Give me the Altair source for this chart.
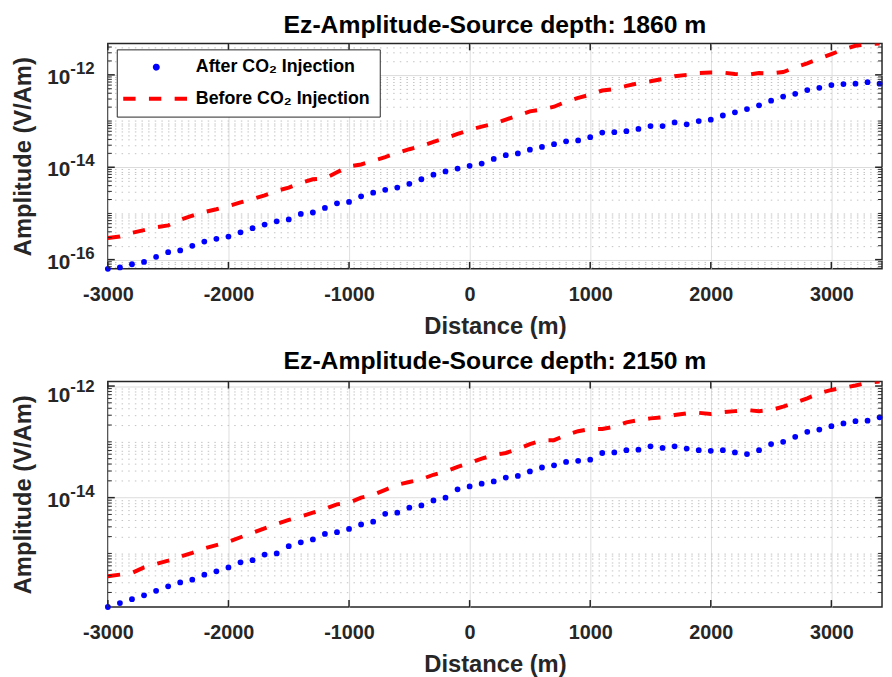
import altair as alt
import numpy as np
import pandas as pd

# ---------------- data ----------------
distance = list(range(-3000, 3401, 100))  # sample positions (m), every 100 m

series_names = ["After CO\u2082 Injection", "Before CO\u2082 Injection"]
series_colors = ["#0000ff", "#ff0000"]

# log10 of amplitude (V/Am), source depth 1860 m
top_after_exp = [
    -16.20, -16.17, -16.10, -16.05, -15.94, -15.84, -15.80, -15.70, -15.61, -15.55,
    -15.50, -15.41, -15.32, -15.24, -15.17, -15.13, -15.01, -14.98, -14.88, -14.78,
    -14.75, -14.63, -14.55, -14.49, -14.44, -14.36, -14.26, -14.16, -14.09, -14.03,
    -13.97, -13.92, -13.82, -13.74, -13.70, -13.62, -13.56, -13.50, -13.44, -13.42,
    -13.35, -13.25, -13.24, -13.22, -13.17, -13.11, -13.11, -13.03, -13.07, -13.00,
    -12.97, -12.88, -12.81, -12.74, -12.66, -12.56, -12.47, -12.41, -12.33, -12.28,
    -12.22, -12.20, -12.19, -12.16, -12.19,
]
top_before_exp = [
    -15.53, -15.50, -15.42, -15.36, -15.30, -15.26, -15.14, -15.05, -14.97, -14.91,
    -14.84, -14.76, -14.69, -14.61, -14.51, -14.44, -14.34, -14.26, -14.24, -14.11,
    -13.98, -13.94, -13.86, -13.78, -13.69, -13.61, -13.54, -13.45, -13.37, -13.28,
    -13.19, -13.12, -13.06, -12.97, -12.88, -12.79, -12.75, -12.69, -12.58, -12.50,
    -12.43, -12.34, -12.31, -12.24, -12.18, -12.14, -12.09, -12.03, -12.00, -11.96,
    -11.95, -11.95, -11.98, -12.00, -11.96, -11.97, -11.94, -11.84, -11.75, -11.65,
    -11.55, -11.45, -11.37, -11.34, -11.32,
]
# log10 of amplitude (V/Am), source depth 2150 m
bottom_after_exp = [
    -15.96, -15.89, -15.82, -15.75, -15.67, -15.59, -15.52, -15.47, -15.38, -15.32,
    -15.25, -15.16, -15.12, -15.02, -15.00, -14.87, -14.80, -14.75, -14.65, -14.62,
    -14.56, -14.48, -14.43, -14.29, -14.27, -14.18, -14.14, -14.05, -14.00, -13.85,
    -13.80, -13.75, -13.71, -13.64, -13.61, -13.53, -13.46, -13.42, -13.36, -13.34,
    -13.32, -13.20, -13.19, -13.15, -13.14, -13.08, -13.11, -13.08, -13.12, -13.15,
    -13.16, -13.15, -13.19, -13.22, -13.15, -13.04, -13.00, -12.91, -12.82, -12.78,
    -12.72, -12.67, -12.63, -12.62, -12.56,
]
bottom_before_exp = [
    -15.41, -15.38, -15.35, -15.25, -15.19, -15.13, -15.06, -14.99, -14.91, -14.85,
    -14.79, -14.71, -14.63, -14.55, -14.47, -14.40, -14.34, -14.27, -14.20, -14.12,
    -14.09, -14.00, -13.95, -13.86, -13.77, -13.72, -13.67, -13.59, -13.53, -13.45,
    -13.38, -13.30, -13.24, -13.20, -13.13, -13.04, -12.97, -12.97, -12.88, -12.81,
    -12.77, -12.77, -12.73, -12.65, -12.61, -12.58, -12.56, -12.52, -12.49, -12.48,
    -12.50, -12.47, -12.45, -12.43, -12.45, -12.43, -12.37, -12.30, -12.22, -12.13,
    -12.07, -12.03, -11.99, -11.94, -11.92,
]

panel_titles = ["Ez-Amplitude-Source depth: 1860 m", "Ez-Amplitude-Source depth: 2150 m"]
x_tick_values = [-3000, -2000, -1000, 0, 1000, 2000, 3000]
x_domain = [-3000, 3420]
top_y_domain_exp = [-16.20, -11.32]
bottom_y_domain_exp = [-15.96, -11.92]
top_y_label_exps = [-12, -14, -16]
bottom_y_label_exps = [-12, -14]

# ---------------- styling ----------------
FONT = "Liberation Sans"
AXIS_COLOR = "#262626"
PLOT_W = 783
DASH = [12.5, 13.5]

LEG_SIZE = 9  # legend symbol size -> circle diameter 3 (+ stroke 4)
LINE_PATH = "M-22.3,0H22.3"  # ~67 px long legend line at size 9

E = "round(log(datum.value)/LN10)"
MAJOR = f"(abs(log(datum.value)/LN10 - {E}) < 0.001 && abs({E}) % 2 == 0)"


def log_ticks(lo_exp, hi_exp):
    vals = []
    for n in range(int(np.floor(lo_exp)), int(np.ceil(hi_exp)) + 1):
        for k in range(1, 10):
            v = float(f"{k}e{n}")
            if 10 ** lo_exp <= v <= 10 ** hi_exp:
                vals.append(v)
    return vals


def make_df(after_exp, before_exp):
    return pd.DataFrame({
        "distance": distance + distance,
        "amplitude": [10 ** e for e in after_exp] + [10 ** e for e in before_exp],
        "series": [series_names[0]] * len(distance) + [series_names[1]] * len(distance),
    })


legend = alt.Legend(
    title=None,
    orient="none",
    legendX=9,
    legendY=6,
    direction="vertical",
    fillColor="white",
    strokeColor=AXIS_COLOR,
    padding=9,
    labelFont=FONT,
    labelFontSize=18,
    labelFontWeight="bold",
    labelColor="black",
    labelLimit=400,
    labelOffset=31,
    symbolOffset=22,
    rowPadding=13,
    symbolSize=LEG_SIZE,
    symbolStrokeWidth=4,
    symbolOpacity=1,
)


def panel(after_exp, before_exp, title, ydom_exp, label_exps, plot_h, show_legend):
    df = make_df(after_exp, before_exp)
    x = alt.X(
        "distance:Q",
        scale=alt.Scale(domain=x_domain, nice=False, zero=False),
        axis=alt.Axis(
            title="Distance (m)",
            values=x_tick_values,
            labelExpr="'' + datum.value",
            labelPadding=16,
            titlePadding=10,
            labelFlush=False,
            gridColor="#dedede",
            gridWidth=1,
        ),
    )
    y = alt.Y(
        "amplitude:Q",
        scale=alt.Scale(type="log", domain=[10 ** ydom_exp[0], 10 ** ydom_exp[1]], nice=False),
        axis=alt.Axis(
            title="Amplitude (V/Am)",
            values=log_ticks(*ydom_exp),
            labels=False,
            titlePadding=7,
            minExtent=66,
            maxExtent=66,
            gridDash={"condition": {"test": MAJOR, "value": []}, "value": [1.5, 5.2]},
            gridColor={"condition": {"test": MAJOR, "value": "#dcdcdc"}, "value": "#c2c2c2"},
            gridWidth=1,
        ),
    )
    after = alt.Chart(df).transform_filter(alt.datum.series == series_names[0])
    before = alt.Chart(df).transform_filter(alt.datum.series == series_names[1])
    if show_legend:
        color = alt.Color("series:N", scale=alt.Scale(domain=series_names, range=series_colors),
                          legend=legend)
        shape = alt.Shape("series:N", scale=alt.Scale(domain=series_names,
                                                      range=["circle", LINE_PATH]), legend=legend)
        dash = alt.StrokeDash("series:N", scale=alt.Scale(domain=series_names,
                                                          range=[[1, 0], DASH]), legend=legend)
        pts = after.mark_point(filled=True, size=34, opacity=1).encode(
            x=x, y=y, color=color, shape=shape, strokeDash=dash)
        line = before.mark_line(strokeWidth=4, clip=True, strokeCap="butt").encode(
            x=x, y=y, color=color, strokeDash=dash)
    else:
        pts = after.mark_point(filled=True, shape="circle", size=34, opacity=1,
                               color=series_colors[0]).encode(x=x, y=y)
        line = before.mark_line(strokeWidth=4, strokeDash=DASH, clip=True, strokeCap="butt",
                                color=series_colors[1]).encode(x=x, y=y)

    # inward MATLAB-style ticks
    xt = alt.Chart(pd.DataFrame({"distance": x_tick_values}))
    xt_bottom = xt.mark_rule(color=AXIS_COLOR, strokeWidth=1.5).encode(
        x=x, y=alt.value(plot_h), y2=alt.value(plot_h - 7))
    xt_top = xt.mark_rule(color=AXIS_COLOR, strokeWidth=1.5).encode(
        x=x, y=alt.value(0), y2=alt.value(7))
    yvals = log_ticks(*ydom_exp)
    ymaj = [v for v in yvals if round(np.log10(v), 6) in [float(e) for e in label_exps]]
    ymin = [v for v in yvals if v not in ymaj]
    yt_major = alt.Chart(pd.DataFrame({"amplitude": ymaj}))
    yt_minor = alt.Chart(pd.DataFrame({"amplitude": ymin}))
    yt_layers = [
        yt_major.mark_rule(color=AXIS_COLOR, strokeWidth=1.5).encode(
            y=y, x=alt.value(0), x2=alt.value(7)),
        yt_major.mark_rule(color=AXIS_COLOR, strokeWidth=1.5).encode(
            y=y, x=alt.value(PLOT_W), x2=alt.value(PLOT_W - 7)),
        yt_minor.mark_rule(color=AXIS_COLOR, strokeWidth=1).encode(
            y=y, x=alt.value(0), x2=alt.value(4)),
        yt_minor.mark_rule(color=AXIS_COLOR, strokeWidth=1).encode(
            y=y, x=alt.value(PLOT_W), x2=alt.value(PLOT_W - 4)),
    ]

    # y tick labels: "10" with a superscript exponent; a label too close to the
    # top edge is nudged down so it stays inside the plot height (as MATLAB does)
    decade_px = plot_h / (ydom_exp[1] - ydom_exp[0])
    label_pos = []
    for e in label_exps:
        dist = (ydom_exp[1] - e) * decade_px
        shift = max(0.0, 12.0 - dist)
        label_pos.append(10.0 ** (e - shift / decade_px))
    lab = alt.Chart(pd.DataFrame({
        "amplitude": label_pos,
        "base": ["10"] * len(label_exps),
        "exponent": [str(e) for e in label_exps],
    }))
    base_txt = lab.mark_text(align="right", baseline="middle", font=FONT, fontSize=21,
                             fontWeight="bold", color=AXIS_COLOR, dy=3, clip=False).encode(
        y=y, x=alt.value(-38), text="base:N")
    exp_txt = lab.mark_text(align="left", baseline="middle", font=FONT, fontSize=17,
                            fontWeight="bold", color=AXIS_COLOR, dy=-6, dx=0, clip=False).encode(
        y=y, x=alt.value(-38), text="exponent:N")

    return alt.layer(line, pts, xt_bottom, xt_top, *yt_layers, base_txt, exp_txt).properties(
        width=PLOT_W,
        height=plot_h,
        title=alt.TitleParams(title, font=FONT, fontSize=25, fontWeight="bold",
                              color="black", offset=5, anchor="middle"),
    )


top = panel(top_after_exp, top_before_exp, panel_titles[0], top_y_domain_exp,
            top_y_label_exps, 228, True)
bottom = panel(bottom_after_exp, bottom_before_exp, panel_titles[1], bottom_y_domain_exp,
               bottom_y_label_exps, 228, False)

chart = alt.vconcat(top, bottom, spacing=9).properties(
    padding={"left": 3, "top": 0, "right": 0, "bottom": 0},
    background="white",
).configure_view(
    stroke=AXIS_COLOR, strokeWidth=1.5,
).configure_axis(
    labelFont=FONT, labelFontSize=20, labelFontWeight="bold", labelColor=AXIS_COLOR,
    titleFont=FONT, titleFontSize=24, titleFontWeight="bold", titleColor=AXIS_COLOR,
    domain=False, ticks=False, grid=True, labelOverlap=False, labelBound=False,
)

chart.save("out.html", embed_options={"renderer": "svg", "actions": False})
